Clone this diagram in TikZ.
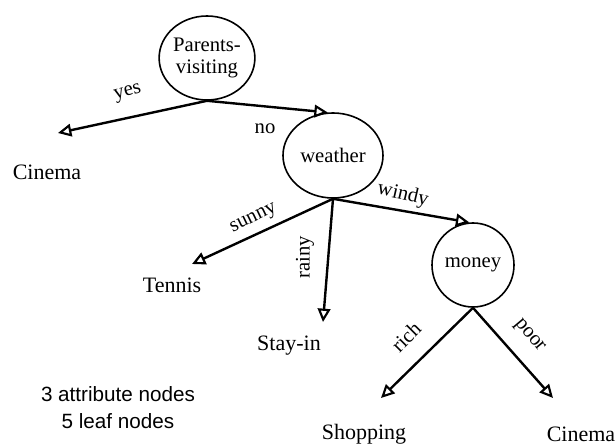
\documentclass[tikz,border=0pt]{standalone}
\usepackage{fontspec}
\setmainfont{Liberation Serif}
\setsansfont{Liberation Sans}
\usetikzlibrary{shapes.geometric,arrows.meta}

\tikzset{
  attr/.style={draw, ellipse, line width=1.2pt, inner sep=0pt, align=center,
    font=\fontsize{15.5}{16.5}\selectfont},
  leaf/.style={anchor=base, inner sep=0pt, font=\fontsize{16.5}{19}\selectfont},
  edgelabel/.style={inner sep=0pt, font=\fontsize{15.5}{18}\selectfont},
  branch/.style={line width=1.8pt, -{Triangle[open, length=10pt, width=9.5pt, line width=1.6pt]}},
}

\begin{document}
\begin{tikzpicture}[x=0.75pt, y=-0.75pt]
  \useasboundingbox (0,0) rectangle (615,445);

  % attribute nodes
  \node[attr, minimum width=70.5pt, minimum height=63pt] (p) at (207,58) {Parents-\\visiting};
  \node[attr, minimum width=75pt, minimum height=63.75pt] (w) at (333,155.5) {weather};
  \node[attr, minimum width=61.5pt, minimum height=63pt] (m) at (473,265) {money};

  % leaves
  \node[leaf] (c1) at (47,180) {Cinema};
  \node[leaf] (t) at (172,293) {Tennis};
  \node[leaf] (s) at (289,351) {Stay-in};
  \node[leaf] (sh) at (364,440) {Shopping};
  \node[leaf] (c2) at (581,442) {Cinema};

  % arrow tips above the leaves
  \coordinate (c1t) at (58,133);
  \coordinate (tt) at (192,264);
  \coordinate (st) at (323,322);
  \coordinate (sht) at (381,398);
  \coordinate (c2t) at (553,398);

  % branches
  \draw[branch] (p.south) -- (w.97);
  \draw[branch] (p.south) -- (c1t);
  \draw[branch] (w.south) -- (tt);
  \draw[branch] (w.south) -- (st);
  \draw[branch] (w.south) -- (m.95);
  \draw[branch] (m.south) -- (sht);
  \draw[branch] (m.south) -- (c2t);

  % branch labels
  \node[edgelabel, rotate=15] (lyes) at (128,93) {yes};
  \node[edgelabel] (lno) at (265,129) {no};
  \node[edgelabel, rotate=26] (lsunny) at (254,219) {sunny};
  \node[edgelabel, rotate=90] (lrainy) at (305,257) {rainy};
  \node[edgelabel, rotate=-13] (lwindy) at (403,195) {windy};
  \node[edgelabel, rotate=45] (lrich) at (406,337) {rich};
  \node[edgelabel, rotate=-50] (lpoor) at (529,336) {poor};

  % summary
  \node[align=center, inner sep=0pt, font=\sffamily\fontsize{15.5}{20.3}\selectfont] (sum) at (118,408)
    {3 attribute nodes\\5 leaf nodes};
\end{tikzpicture}
\end{document}
